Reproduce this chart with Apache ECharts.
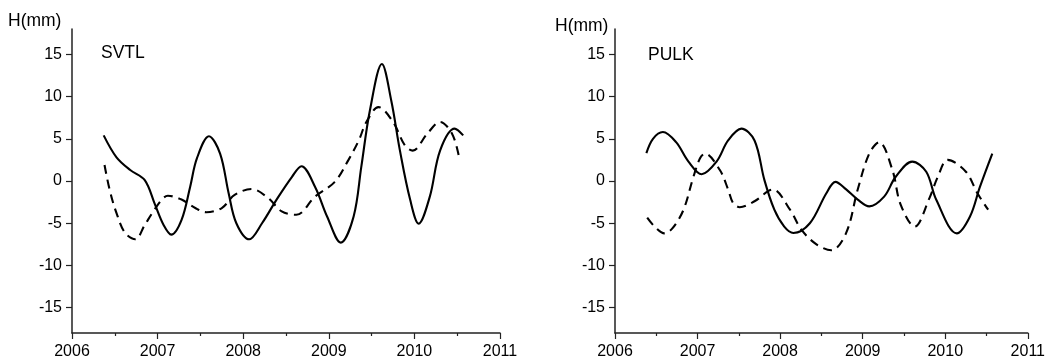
<!DOCTYPE html>
<html>
<head>
<meta charset="utf-8">
<script src="https://cdn.jsdelivr.net/npm/echarts@6/dist/echarts.min.js"></script>
<style>
  html, body { margin: 0; padding: 0; background: #fff; }
  #main { width: 1048px; height: 360px; }
</style>
</head>
<body>
<div id="main"></div>
<script>
// tick labels
var yTicks = [-15, -10, -5, 0, 5, 10, 15];
var panelNames = ['SVTL', 'PULK'];

// SVTL - [year, H(mm)]
var svtlSolid = [
  [2006.37, 5.4], [2006.52, 2.8], [2006.68, 1.3], [2006.85, 0.1], [2006.97, -2.8],
  [2007.07, -5.2], [2007.16, -6.35], [2007.28, -4.6], [2007.38, -0.7], [2007.46, 2.7],
  [2007.6, 5.3], [2007.73, 3.25], [2007.83, -1.45], [2007.92, -5.0], [2008.07, -6.9],
  [2008.22, -5.0], [2008.39, -2.2], [2008.57, 0.5], [2008.68, 1.75], [2008.84, -0.7],
  [2008.98, -4.2], [2009.14, -7.3], [2009.29, -4.2], [2009.38, 1.7], [2009.48, 8.35],
  [2009.62, 13.85], [2009.73, 9.5], [2009.83, 3.65], [2009.95, -2.2], [2010.05, -5.05],
  [2010.18, -1.85], [2010.3, 3.6], [2010.47, 6.2], [2010.57, 5.4]
];
var svtlDashed = [
  [2006.38, 1.9], [2006.44, -1.05], [2006.52, -3.8], [2006.62, -6.15], [2006.74, -6.9],
  [2006.85, -5.2], [2006.95, -3.6], [2007.05, -2.2], [2007.12, -1.75], [2007.28, -2.2],
  [2007.44, -3.2], [2007.57, -3.7], [2007.75, -3.2], [2007.9, -1.65], [2008.1, -0.95],
  [2008.29, -2.0], [2008.45, -3.6], [2008.62, -4.0], [2008.84, -1.85], [2009.07, -0.1],
  [2009.23, 2.5], [2009.35, 4.8], [2009.44, 7.0], [2009.58, 8.75], [2009.75, 7.0],
  [2009.89, 4.2], [2009.98, 3.6], [2010.15, 5.6], [2010.3, 7.0], [2010.44, 5.6],
  [2010.52, 2.9]
];

// PULK - [year, H(mm)]
var pulkSolid = [
  [2006.38, 3.3], [2006.46, 5.0], [2006.58, 5.8], [2006.74, 4.6], [2006.89, 2.3],
  [2007.05, 0.8], [2007.23, 2.3], [2007.37, 4.8], [2007.53, 6.2], [2007.69, 4.8],
  [2007.81, 0.1], [2007.93, -3.4], [2008.05, -5.4], [2008.16, -6.15], [2008.36, -5.0],
  [2008.56, -1.45], [2008.67, -0.1], [2008.8, -1.0], [2008.94, -2.2], [2009.08, -3.0],
  [2009.26, -1.85], [2009.4, 0.5], [2009.6, 2.3], [2009.77, 1.1], [2009.89, -2.2],
  [2010.14, -6.2], [2010.3, -4.2], [2010.42, -0.7], [2010.57, 3.25]
];
var pulkDashed = [
  [2006.39, -4.35], [2006.48, -5.4], [2006.6, -6.2], [2006.7, -5.55], [2006.83, -3.4],
  [2006.95, 0.5], [2007.03, 2.7], [2007.09, 3.25], [2007.27, 1.3], [2007.37, -1.0],
  [2007.43, -2.6], [2007.51, -3.1], [2007.69, -2.4], [2007.91, -1.0], [2008.12, -3.4],
  [2008.26, -5.8], [2008.44, -7.5], [2008.62, -8.2], [2008.8, -6.15], [2008.94, -1.0],
  [2009.08, 3.25], [2009.2, 4.6], [2009.36, 1.3], [2009.46, -2.8], [2009.63, -5.4],
  [2009.81, -2.0], [2009.91, 0.5], [2010.03, 2.5], [2010.25, 1.1], [2010.39, -1.45],
  [2010.52, -3.4]
];

var axisColor = '#222';
var font = 'Arial, "Liberation Sans", Helvetica, sans-serif';

function xAxisFor(idx) {
  return {
    type: 'value', gridIndex: idx, min: 2006, max: 2011, interval: 1,
    axisLine: { show: true, onZero: false, lineStyle: { color: axisColor, width: 1.5 } },
    axisTick: { show: true, length: 6, lineStyle: { color: axisColor, width: 1.2 } },
    minorTick: { show: true, splitNumber: 2, length: 3, lineStyle: { color: axisColor, width: 1.2 } },
    splitLine: { show: false },
    axisLabel: {
      color: '#000', fontSize: 16, fontFamily: font, margin: 11,
      formatter: function (v) { return String(v); }
    }
  };
}
function yAxisFor(idx) {
  return {
    type: 'value', gridIndex: idx, min: -18, max: 18,
    axisLine: { show: true, onZero: false, lineStyle: { color: axisColor, width: 1.5 } },
    axisTick: { show: true, length: 6, customValues: yTicks, lineStyle: { color: axisColor, width: 1.2 } },
    splitLine: { show: false },
    axisLabel: { color: '#000', fontSize: 16, fontFamily: font, margin: 10, customValues: yTicks }
  };
}
function lineSeries(idx, data, dashed) {
  return {
    type: 'line', xAxisIndex: idx, yAxisIndex: idx, data: data,
    smooth: 0.35, showSymbol: false, silent: true,
    lineStyle: { color: '#000', width: 2.1, type: dashed ? [9, 6] : 'solid' }
  };
}

var myChart = echarts.init(document.getElementById('main'));
var option = {
  animation: false,
  backgroundColor: '#fff',
  grid: [
    { left: 72, top: 29, width: 428, bottom: 27 },
    { left: 615, top: 29, width: 414, bottom: 27 }
  ],
  xAxis: [xAxisFor(0), xAxisFor(1)],
  yAxis: [yAxisFor(0), yAxisFor(1)],
  graphic: [
    { type: 'text', left: 8, top: 12, style: { text: 'H(mm)', fontSize: 17.5, fontFamily: font, fill: '#000' } },
    { type: 'text', left: 555, top: 17, style: { text: 'H(mm)', fontSize: 17.5, fontFamily: font, fill: '#000' } },
    { type: 'text', left: 101, top: 44, style: { text: panelNames[0], fontSize: 17.5, fontFamily: font, fill: '#000' } },
    { type: 'text', left: 648, top: 46, style: { text: panelNames[1], fontSize: 17.5, fontFamily: font, fill: '#000' } }
  ],
  series: [
    lineSeries(0, svtlSolid, false),
    lineSeries(0, svtlDashed, true),
    lineSeries(1, pulkSolid, false),
    lineSeries(1, pulkDashed, true)
  ]
};
option && myChart.setOption(option);
</script>
</body>
</html>
